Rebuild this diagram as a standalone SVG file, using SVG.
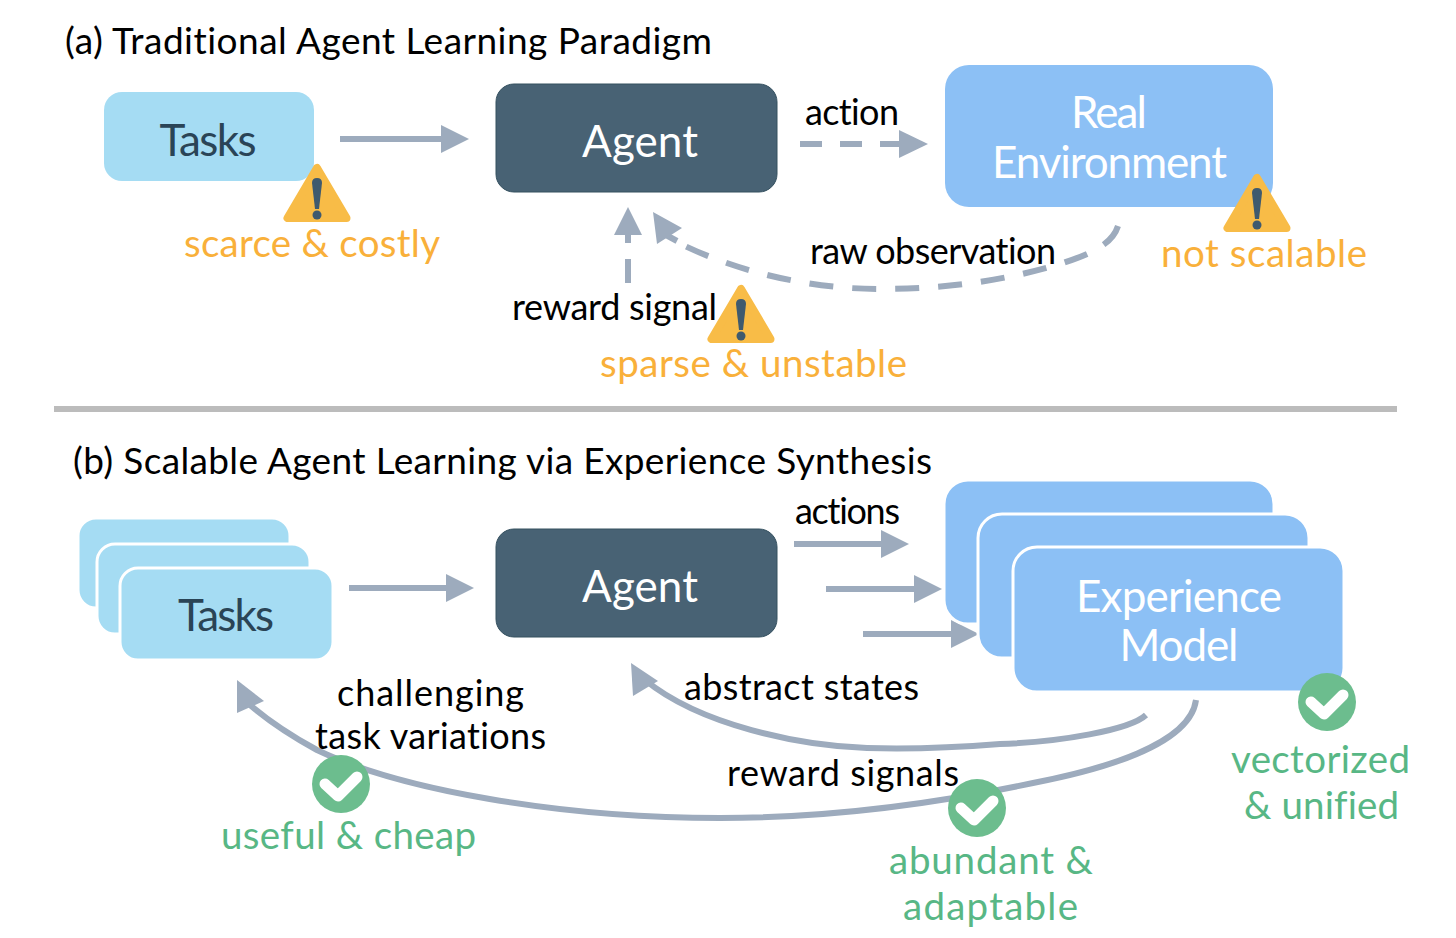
<svg xmlns="http://www.w3.org/2000/svg" width="1456" height="938" viewBox="0 0 1456 938">
<style>
text{font-family:Lato,"Open Sans","Liberation Sans",sans-serif;font-variant-ligatures:none}
.t{fill:#000;font-size:37px}
.l{fill:#000;font-size:36px}
.o{fill:#f9b03a;font-size:38.500px}
.g{fill:#58b785;font-size:38.500px}
.w{fill:#fff;font-size:44px;text-anchor:middle}
.d{fill:#2a4456;font-size:44px;text-anchor:middle}
.task{fill:#a5dcf3}
.stack{stroke:#fff;stroke-width:3}
.agent{fill:#486274;stroke:#34505f;stroke-width:1}
.env{fill:#8cc0f5}
.c{fill:none;stroke:#9dabbd;stroke-width:6}
.ah{fill:#9dabbd}
.tri{fill:#f8bc47;stroke:#f8bc47;stroke-width:8;stroke-linejoin:round}
.mk{fill:#3f5a6e}
.circ{fill:#6cbd8e}
.ck{fill:none;stroke:#fff;stroke-width:11;stroke-linecap:round;stroke-linejoin:round}
</style>
<defs>
<g id="warn"><path class="tri" d="M0 -26 L-29.500 24 L29.500 24 Z"/><path class="mk" d="M-5 -11 Q-5 -16 0 -16 Q5 -16 5 -11 L2 15 L-2 15 Z"/><circle class="mk" cx="0" cy="21" r="4.500"/></g>
<g id="ok"><circle class="circ" r="29"/><path class="ck" d="M-16 0 L-3 12 L16 -7"/></g>
</defs>
<rect x="54" y="406" width="1343" height="6" fill="#bcbcbc"/>
<text class="t" x="65" y="54" textLength="647">(a) Traditional Agent Learning Paradigm</text>
<text class="t" x="73" y="474" textLength="859">(b) Scalable Agent Learning via Experience Synthesis</text>
<g id="connectors">
<path class="c" d="M340 139H445"/><path class="ah" d="M441 125L469 139L441 153Z"/>
<path class="c" stroke-dasharray="22 18" d="M800 144H905"/><path class="ah" d="M899 130L928 144L899 158Z"/>
<path class="c" stroke-dasharray="24 16" d="M628 283V233"/><path class="ah" d="M628 207L642 235H614Z"/>
<path class="c" stroke-dasharray="24 19" d="M1118 226C1112 245 1090 254 1060 264C1000 282 940 289 880 289C810 289 740 272 685 246"/><path class="c" d="M677 241L666 235"/><path class="ah" d="M653 212L682 228L657 244Z"/>
<path class="c" d="M349 588H450"/><path class="ah" d="M446 574L474 588L446 602Z"/>
<path class="c" d="M794 544H885"/><path class="ah" d="M881 530L909 544L881 558Z"/>
<path class="c" d="M826 589H918"/><path class="ah" d="M914 575L942 589L914 603Z"/>
<path class="c" d="M863 634H955"/><path class="ah" d="M951 620L979 634L951 648Z"/>
<path class="c" d="M1146 715C1130 730 1060 742 1000 744C950 748 900 749 867 748C800 746 700 725 645 680"/><path class="ah" d="M631 663L658 681L633 696Z"/>
<path class="c" d="M1196 700C1190 745 1100 770 1033 783C930 805 830 818 720 818C560 818 400 790 317 750C295 738 270 722 250 705"/><path class="ah" d="M237 680L264 701L237 713Z"/>
</g>
<g id="tasks-a"><rect class="task" x="104" y="92" width="210" height="89" rx="18"/><text class="d" x="208" y="156" textLength="97">Tasks</text></g>
<g id="agent-a"><rect class="agent" x="496" y="84" width="281" height="108" rx="18"/><text class="w" x="640" y="157" textLength="116">Agent</text></g>
<g id="env-a"><rect class="env" x="945" y="65" width="328" height="142" rx="24"/><text class="w" x="1109" y="128" textLength="76">Real</text><text class="w" x="1109.500" y="178" textLength="235">Environment</text></g>
<g id="tasks-b">
<rect class="task stack" x="78" y="518" width="212" height="90" rx="18"/>
<rect class="task stack" x="97" y="544" width="213" height="90" rx="18"/>
<rect class="task stack" x="120" y="568" width="213" height="92" rx="18"/>
<text class="d" x="226" y="631" textLength="96">Tasks</text></g>
<g id="agent-b"><rect class="agent" x="496" y="529" width="281" height="108" rx="18"/><text class="w" x="640" y="602" textLength="116">Agent</text></g>
<g id="model-b">
<rect class="env stack" x="944" y="480" width="330" height="144" rx="24"/>
<rect class="env stack" x="978" y="514" width="331" height="144" rx="24"/>
<rect class="env stack" x="1013" y="547" width="331" height="145" rx="24"/>
<text class="w" x="1179" y="612" textLength="206">Experience</text><text class="w" x="1179" y="661" textLength="119">Model</text></g>
<g id="labels">
<text class="l" x="805" y="125" textLength="94">action</text>
<text class="l" x="810" y="264" textLength="246">raw observation</text>
<text class="l" x="512" y="320" textLength="205">reward signal</text>
<text class="l" x="795" y="524" textLength="105">actions</text>
<text class="l" x="684" y="700" textLength="235">abstract states</text>
<text class="l" x="337" y="706" textLength="187">challenging</text>
<text class="l" x="315" y="749" textLength="231">task variations</text>
<text class="l" x="727" y="786" textLength="232">reward signals</text>
</g>
<g id="badges">
<use href="#warn" x="317" y="194"/><use href="#warn" x="1257" y="204"/><use href="#warn" x="741" y="315"/>
<use href="#ok" x="1327" y="702"/><use href="#ok" x="341" y="784"/><use href="#ok" x="977" y="808"/>
<text class="o" x="184" y="257" textLength="256">scarce &amp; costly</text>
<text class="o" x="1161" y="267" textLength="206">not scalable</text>
<text class="o" x="600" y="377" textLength="307">sparse &amp; unstable</text>
<text class="g" x="1231" y="773" textLength="179">vectorized</text>
<text class="g" x="1244" y="819" textLength="155">&amp; unified</text>
<text class="g" x="221" y="849" textLength="255">useful &amp; cheap</text>
<text class="g" x="889" y="874" textLength="204">abundant &amp;</text>
<text class="g" x="903" y="920" textLength="175">adaptable</text>
</g>
</svg>
